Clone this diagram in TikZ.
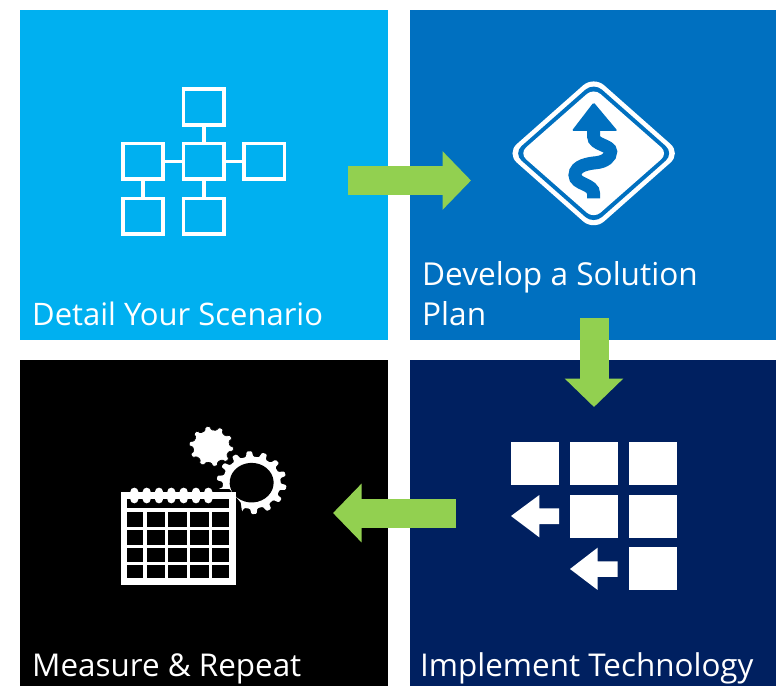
\documentclass[tikz,border=0pt]{standalone}
\usepackage{fontspec}
\setmainfont{Open Sans}
\usetikzlibrary{arrows.meta}
\definecolor{pcyan}{HTML}{00B0F0}
\definecolor{pblue}{HTML}{0070C0}
\definecolor{pnavy}{HTML}{002060}
\definecolor{pgreen}{HTML}{92D050}
\tikzset{
  panel/.style={inner sep=0pt,outer sep=0pt,anchor=north west},
  caption/.style={text=white,anchor=base west,inner sep=0pt,font=\fontsize{31.4}{34}\selectfont},
  netbox/.style={draw=white,line width=3.6pt,minimum width=40.4pt,minimum height=35.8pt,inner sep=0pt,outer sep=0pt},
  netlink/.style={draw=white,line width=3.6pt},
  flow/.style={draw=pgreen,line width=29pt,-{Triangle[length=28.5pt,width=57pt,fill=pgreen]}},
  tile/.style={fill=white,minimum width=48pt,minimum height=43pt,inner sep=0pt,outer sep=0pt},
  road/.style={draw=pblue,line width=13pt}
}
\newcommand{\gearshape}[3]{% teeth, outer radius, root radius
  (0:#3) \foreach \k in {1,...,#1}{
    -- ({(\k-1+.22)*360/#1}:#3) -- ({(\k-1+.34)*360/#1}:#2) -- ({(\k-1+.66)*360/#1}:#2) -- ({(\k-1+.78)*360/#1}:#3)
  } -- cycle}
\begin{document}
\begin{tikzpicture}[x=1pt,y=-1pt]
\useasboundingbox[fill=white] (0,0) rectangle (776,686);
% panels
\node[panel,fill=pcyan,minimum width=368pt,minimum height=330pt] (p1) at (20,10) {};
\node[panel,fill=pblue,minimum width=366pt,minimum height=330pt] (p2) at (410,10) {};
\node[panel,fill=pnavy,minimum width=366pt,minimum height=326pt] (p3) at (410,360) {};
\node[panel,fill=black,minimum width=368pt,minimum height=326pt] (p4) at (20,360) {};
% captions
\node[caption,font=\fontsize{31}{34}\selectfont] (t1) at (32,325) {Detail Your Scenario};
\node[caption,font=\fontsize{31.6}{34}\selectfont] (t2a) at (422,285) {Develop a Solution};
\node[caption,font=\fontsize{31.6}{34}\selectfont] (t2b) at (422,325) {Plan};
\node[caption] (t3) at (420,676) {Implement Technology};
\node[caption] (t4) at (32,676) {Measure \& Repeat};
% network icon
\node[netbox] (nt) at (203.7,107) {};
\node[netbox] (nl) at (143,161.3) {};
\node[netbox] (nc) at (203.7,161.3) {};
\node[netbox] (nr) at (264.3,161.3) {};
\node[netbox] (bl) at (143,216.3) {};
\node[netbox] (bc) at (203.7,216.3) {};
\draw[netlink] (nt) -- (nc);
\draw[netlink] (nl) -- (nc);
\draw[netlink] (nc) -- (nr);
\draw[netlink] (nl) -- (bl);
\draw[netlink] (nc) -- (bc);
% road sign
\begin{scope}[shift={(500,70)},x=0.3333pt,y=-0.3333pt]
\fill[white,rounded corners=14pt] (281,18) -- (543,250) -- (281,482) -- (19,250) -- cycle;
\fill[pblue,rounded corners=11pt] (281,37) -- (522,250) -- (281,463) -- (40,250) -- cycle;
\fill[white,rounded corners=9pt] (281,54) -- (504,250) -- (281,446) -- (58,250) -- cycle;
\fill[pblue,rounded corners=1.5pt] (281,97) -- (353,183) -- (215,183) -- cycle;
\draw[road] (281,385) -- (281,372) .. controls (281,340) and (225,345) .. (225,315)
  .. controls (225,285) and (270,280) .. (290,278)
  .. controls (315,275) and (332,262) .. (332,245)
  .. controls (332,225) and (281,225) .. (281,200) -- (281,178);
\end{scope}
% tiles icon
\begin{scope}[shift={(500,430)},x=0.3333pt,y=-0.3333pt]
\node[tile] (a1) at (105,99) {};
\node[tile] (a2) at (281,99) {};
\node[tile] (a3) at (458,99) {};
\node[tile] (b2) at (281,258) {};
\node[tile] (b3) at (458,258) {};
\node[tile] (c3) at (458,416.5) {};
\fill[white] (33,258) -- (118,195) -- (118,235) -- (177,235) -- (177,282) -- (118,282) -- (118,322) -- cycle;
\fill[white] (210,417) -- (293,353) -- (293,394) -- (353,394) -- (353,441) -- (293,441) -- (293,480) -- cycle;
\end{scope}
% calendar and gears icon
\begin{scope}[shift={(110,420)},x=0.3333pt,y=-0.3333pt]
% large gear, open at its lower left
\begin{scope}[shift={(425,188)},yscale=.9,rotate=4]
\fill[white,rounded corners=1pt] \gearshape{14}{105}{87};
\fill[black] (0,0) circle[radius=66];
\end{scope}
\fill[black] (300,207) -- (358,207) -- (392,248) -- (400,300) -- (300,300) -- cycle;
% small gear
\begin{scope}[shift={(304,79)},yscale=.9,rotate=10]
\fill[white,draw=black,line width=.6pt,rounded corners=1pt] \gearshape{10}{67}{55};
\end{scope}
% calendar
\fill[white] (33,215) rectangle (378,495);
\fill[black] (50,238) rectangle (358,265);
\foreach \cx in {73,110,147,184,221,258,295}{
  \fill[white] (\cx,215) circle[radius=12];
  \fill[white] (\cx,238) circle[radius=12];
}
\foreach \xa/\xb in {50/100,110/165,175/230,240/296,306/358}{
  \foreach \ya/\yb in {276/320,330/375,384/427,435/475}{
    \fill[black] (\xa,\ya) rectangle (\xb,\yb);
  }
}
\end{scope}
% flow arrows
\coordinate (f1s) at (348,180.5);
\coordinate (f1e) at (471,180.5);
\coordinate (f2s) at (594,318);
\coordinate (f2e) at (594,407);
\coordinate (f3s) at (456,513);
\coordinate (f3e) at (333,513);
\draw[flow] (f1s) -- (f1e);
\draw[flow] (f2s) -- (f2e);
\draw[flow] (f3s) -- (f3e);
\end{tikzpicture}
\end{document}
